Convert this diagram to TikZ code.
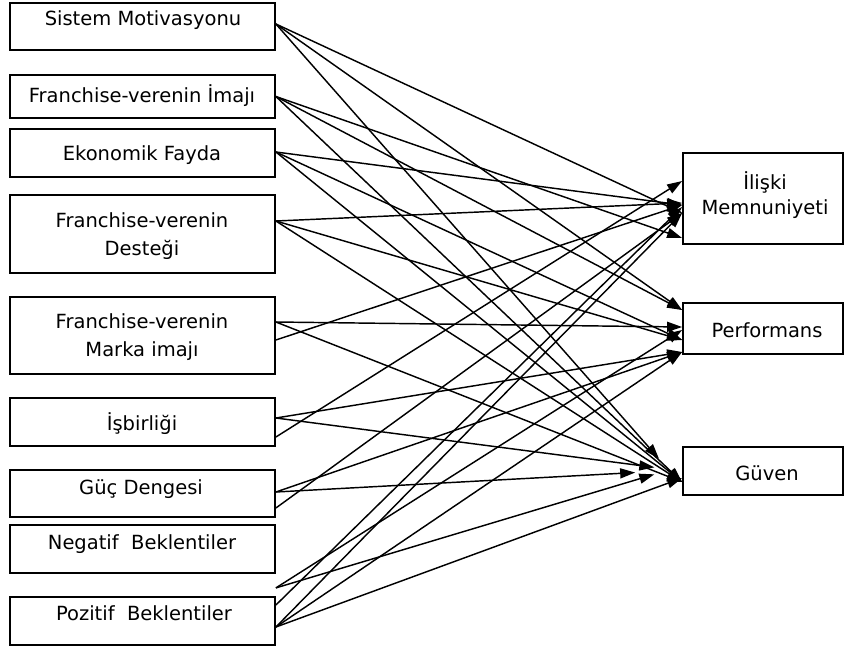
\documentclass[tikz,border=0pt]{standalone}
\usepackage{fontspec}
\setmainfont{DejaVu Sans}
\usetikzlibrary{arrows.meta}
\begin{document}
\begin{tikzpicture}[x=1pt,y=-1pt,
  box/.style={draw, line width=1.8pt, inner sep=0pt},
  lbl/.style={font=\fontsize{19.5}{28}\selectfont, align=center, inner sep=0pt},
  link/.style={line width=1.45pt, -{Triangle[length=15pt,width=10pt]}}]
\useasboundingbox (0,0) rectangle (845,648);

% left column: factors
\node[box, minimum width=265pt, minimum height=47pt] (sm) at (142.5,26.5) {};
\node[box, minimum width=265pt, minimum height=43pt] (fi) at (142.5,96.5) {};
\node[box, minimum width=265pt, minimum height=48pt] (ef) at (142.5,153) {};
\node[box, minimum width=265pt, minimum height=78pt] (fd) at (142.5,234) {};
\node[box, minimum width=265pt, minimum height=77pt] (fm) at (142.5,335.5) {};
\node[box, minimum width=265pt, minimum height=48pt] (ib) at (142.5,422) {};
\node[box, minimum width=265pt, minimum height=47pt] (gd) at (142.5,493.5) {};
\node[box, minimum width=265pt, minimum height=48pt] (nb) at (142.5,549) {};
\node[box, minimum width=265pt, minimum height=48pt] (pb) at (142.5,621) {};

\node[lbl] (smt) at (143,20) {Sistem Motivasyonu};
\node[lbl] (fit) at (142,96) {Franchise-verenin İmajı};
\node[lbl] (eft) at (142,155) {Ekonomik Fayda};
\node[lbl] (fdt) at (142,236) {Franchise-verenin\\Desteği};
\node[lbl] (fmt) at (142,337) {Franchise-verenin\\Marka imajı};
\node[lbl] (ibt) at (142,424) {İşbirliği};
\node[lbl] (gdt) at (141,489) {Güç Dengesi};
\node[lbl] (nbt) at (142,544) {Negatif\ \ Beklentiler};
\node[lbl] (pbt) at (144,613) {Pozitif\ \ Beklentiler};

% right column: outcomes
\node[box, minimum width=160pt, minimum height=91pt] (im) at (763,198.5) {};
\node[box, minimum width=160pt, minimum height=51pt] (pf) at (763,328.5) {};
\node[box, minimum width=160pt, minimum height=48pt] (gv) at (763,471) {};

\node[lbl, font=\fontsize{19.5}{25}\selectfont] (imt) at (765,195) {İlişki\\Memnuniyeti};
\node[lbl] (pft) at (767,330) {Performans};
\node[lbl] (gvt) at (767,473) {Güven};

% outgoing point below the Negatif box
\coordinate (nbo) at ([yshift=-14pt]nb.south east);

% connectors
\draw[link] ([yshift=2.5pt]sm.east) -- ([yshift=-14.5pt]im.west);
\draw[link] ([yshift=2.5pt]sm.east) -- ([yshift=18.5pt]pf.west);
\draw[link, shorten >=35pt] ([yshift=2.5pt]sm.east) -- ([yshift=-14pt]gv.west);

\draw[link] (fi.east) -- ([yshift=-39.5pt]im.west);
\draw[link] (fi.east) -- ([yshift=18.5pt]pf.west);
\draw[link] (fi.east) -- ([yshift=-11pt]gv.west);

\draw[link] ([yshift=1pt]ef.east) -- ([yshift=-6.5pt]im.west);
\draw[link] ([yshift=1pt]ef.east) -- ([yshift=-11.5pt]pf.west);
\draw[link] ([yshift=1pt]ef.east) -- ([yshift=-11pt]gv.west);

\draw[link] ([yshift=13pt]fd.east) -- ([yshift=-4.5pt]im.west);
\draw[link] ([yshift=13pt]fd.east) -- ([yshift=-11.5pt]pf.west);
\draw[link] ([yshift=13pt]fd.east) -- ([yshift=-11pt]gv.west);

\draw[link] ([yshift=13.5pt]fm.east) -- ([yshift=1.5pt]pf.west);
\draw[link] ([yshift=13.5pt]fm.east) -- ([yshift=-11pt]gv.west);
\draw[link] ([yshift=-4.5pt]fm.east) -- ([yshift=-6.5pt]im.west);

\draw[link] ([yshift=4pt]ib.east) -- ([yshift=-23.5pt]pf.west);
\draw[link, shorten >=28pt] ([yshift=4pt]ib.east) -- (gv.west);
\draw[link] ([yshift=-15pt]ib.east) -- ([yshift=17.5pt]im.west);

\draw[link, shorten >=47pt] ([yshift=1.5pt]gd.east) -- ([yshift=1pt]gv.west);
\draw[link] ([yshift=1.5pt]gd.east) -- ([yshift=-23.5pt]pf.west);
\draw[link] ([yshift=-14.5pt]gd.east) -- ([yshift=-14.5pt]im.west);

\draw[link] (nbo) -- ([yshift=-1.5pt]pf.west);
\draw[link, shorten >=29pt] (nbo) -- ([yshift=5pt]gv.west);

\draw[link] ([yshift=16pt]pb.east) -- ([yshift=-8.5pt]im.west);
\draw[link] ([yshift=-6pt]pb.east) -- ([yshift=-14.5pt]im.west);
\draw[link] ([yshift=-6pt]pb.east) -- ([yshift=-23.5pt]pf.west);
\draw[link] ([yshift=-6pt]pb.east) -- ([yshift=-7pt]gv.west);
\end{tikzpicture}
\end{document}
